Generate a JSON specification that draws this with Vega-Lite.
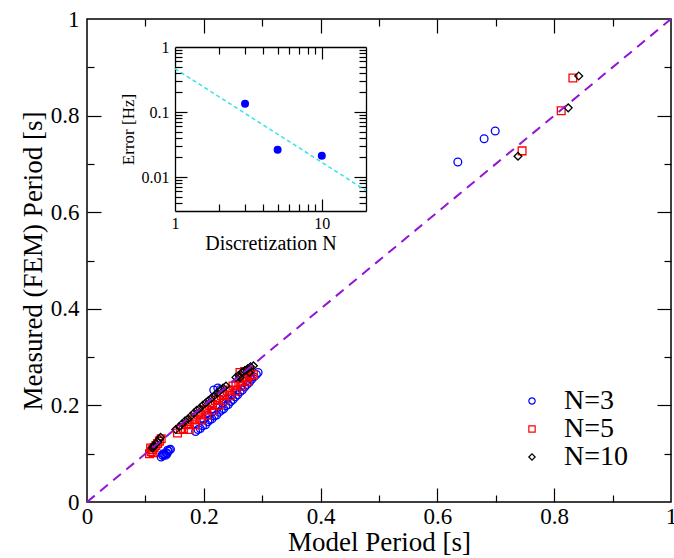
{
  "$schema": "https://vega.github.io/schema/vega-lite/v6.json",
  "width": 584,
  "height": 483,
  "autosize": "none",
  "padding": {"left": 87, "top": 19, "right": 3, "bottom": 56},
  "config": {
    "view": {"stroke": "black", "strokeWidth": 1.5},
    "font": "Liberation Serif, Times New Roman, serif",
    "axis": {
      "labelFont": "Liberation Serif, Times New Roman, serif", "titleFont": "Liberation Serif, Times New Roman, serif",
      "labelColor": "black", "titleColor": "black", "titleFontWeight": "normal",
      "grid": false, "tickColor": "black", "tickWidth": 1.2,
      "domainColor": "black", "domainWidth": 1.3,
      "labelFlush": false, "labelOverlap": false
    },
    "legend": {"labelFont": "Liberation Serif, Times New Roman, serif", "labelColor": "black"}
  },
  "datasets": {
    "pts": [
      {"series": "N=3", "x": 0.186, "y": 0.146}, {"series": "N=3", "x": 0.19, "y": 0.15}, {"series": "N=3", "x": 0.194, "y": 0.152},
      {"series": "N=3", "x": 0.198, "y": 0.158}, {"series": "N=3", "x": 0.203, "y": 0.16}, {"series": "N=3", "x": 0.207, "y": 0.166},
      {"series": "N=3", "x": 0.21, "y": 0.17}, {"series": "N=3", "x": 0.214, "y": 0.172}, {"series": "N=3", "x": 0.218, "y": 0.178},
      {"series": "N=3", "x": 0.222, "y": 0.18}, {"series": "N=3", "x": 0.226, "y": 0.186}, {"series": "N=3", "x": 0.23, "y": 0.19},
      {"series": "N=3", "x": 0.234, "y": 0.193}, {"series": "N=3", "x": 0.238, "y": 0.199}, {"series": "N=3", "x": 0.242, "y": 0.202},
      {"series": "N=3", "x": 0.246, "y": 0.208}, {"series": "N=3", "x": 0.25, "y": 0.212}, {"series": "N=3", "x": 0.254, "y": 0.218},
      {"series": "N=3", "x": 0.258, "y": 0.222}, {"series": "N=3", "x": 0.262, "y": 0.228}, {"series": "N=3", "x": 0.266, "y": 0.232},
      {"series": "N=3", "x": 0.27, "y": 0.238}, {"series": "N=3", "x": 0.274, "y": 0.243}, {"series": "N=3", "x": 0.278, "y": 0.248},
      {"series": "N=3", "x": 0.282, "y": 0.254}, {"series": "N=3", "x": 0.286, "y": 0.259}, {"series": "N=3", "x": 0.29, "y": 0.264},
      {"series": "N=3", "x": 0.2, "y": 0.172}, {"series": "N=3", "x": 0.208, "y": 0.18}, {"series": "N=3", "x": 0.216, "y": 0.188},
      {"series": "N=3", "x": 0.224, "y": 0.196}, {"series": "N=3", "x": 0.232, "y": 0.205}, {"series": "N=3", "x": 0.24, "y": 0.214},
      {"series": "N=3", "x": 0.248, "y": 0.222}, {"series": "N=3", "x": 0.256, "y": 0.232}, {"series": "N=3", "x": 0.264, "y": 0.24},
      {"series": "N=3", "x": 0.272, "y": 0.25}, {"series": "N=3", "x": 0.28, "y": 0.258},
      {"series": "N=3", "x": 0.217, "y": 0.232}, {"series": "N=3", "x": 0.224, "y": 0.236}, {"series": "N=3", "x": 0.228, "y": 0.233},
      {"series": "N=3", "x": 0.262, "y": 0.262}, {"series": "N=3", "x": 0.275, "y": 0.268}, {"series": "N=3", "x": 0.293, "y": 0.268},
      {"series": "N=3", "x": 0.127, "y": 0.093}, {"series": "N=3", "x": 0.13, "y": 0.096}, {"series": "N=3", "x": 0.133, "y": 0.099},
      {"series": "N=3", "x": 0.136, "y": 0.102}, {"series": "N=3", "x": 0.139, "y": 0.105}, {"series": "N=3", "x": 0.141, "y": 0.108},
      {"series": "N=3", "x": 0.143, "y": 0.109}, {"series": "N=3", "x": 0.129, "y": 0.098}, {"series": "N=3", "x": 0.135, "y": 0.097},
      {"series": "N=3", "x": 0.138, "y": 0.107}, {"series": "N=3", "x": 0.131, "y": 0.1}, {"series": "N=3", "x": 0.137, "y": 0.1},
      {"series": "N=3", "x": 0.635, "y": 0.704}, {"series": "N=3", "x": 0.68, "y": 0.752}, {"series": "N=3", "x": 0.699, "y": 0.768},

      {"series": "N=5", "x": 0.155, "y": 0.143}, {"series": "N=5", "x": 0.16, "y": 0.15}, {"series": "N=5", "x": 0.165, "y": 0.152},
      {"series": "N=5", "x": 0.17, "y": 0.16}, {"series": "N=5", "x": 0.175, "y": 0.162}, {"series": "N=5", "x": 0.18, "y": 0.17},
      {"series": "N=5", "x": 0.185, "y": 0.172}, {"series": "N=5", "x": 0.19, "y": 0.18}, {"series": "N=5", "x": 0.195, "y": 0.182},
      {"series": "N=5", "x": 0.2, "y": 0.19}, {"series": "N=5", "x": 0.205, "y": 0.192}, {"series": "N=5", "x": 0.21, "y": 0.2},
      {"series": "N=5", "x": 0.215, "y": 0.202}, {"series": "N=5", "x": 0.22, "y": 0.21}, {"series": "N=5", "x": 0.225, "y": 0.212},
      {"series": "N=5", "x": 0.23, "y": 0.22}, {"series": "N=5", "x": 0.235, "y": 0.222}, {"series": "N=5", "x": 0.24, "y": 0.23},
      {"series": "N=5", "x": 0.245, "y": 0.232}, {"series": "N=5", "x": 0.25, "y": 0.24}, {"series": "N=5", "x": 0.255, "y": 0.242},
      {"series": "N=5", "x": 0.26, "y": 0.248}, {"series": "N=5", "x": 0.265, "y": 0.25}, {"series": "N=5", "x": 0.27, "y": 0.256},
      {"series": "N=5", "x": 0.275, "y": 0.258}, {"series": "N=5", "x": 0.28, "y": 0.262}, {"series": "N=5", "x": 0.285, "y": 0.264},
      {"series": "N=5", "x": 0.175, "y": 0.15}, {"series": "N=5", "x": 0.185, "y": 0.16}, {"series": "N=5", "x": 0.195, "y": 0.17},
      {"series": "N=5", "x": 0.205, "y": 0.18}, {"series": "N=5", "x": 0.215, "y": 0.19}, {"series": "N=5", "x": 0.225, "y": 0.2},
      {"series": "N=5", "x": 0.235, "y": 0.21}, {"series": "N=5", "x": 0.245, "y": 0.22}, {"series": "N=5", "x": 0.255, "y": 0.23},
      {"series": "N=5", "x": 0.265, "y": 0.24}, {"series": "N=5", "x": 0.275, "y": 0.25},
      {"series": "N=5", "x": 0.262, "y": 0.268}, {"series": "N=5", "x": 0.27, "y": 0.27}, {"series": "N=5", "x": 0.278, "y": 0.272},
      {"series": "N=5", "x": 0.107, "y": 0.1}, {"series": "N=5", "x": 0.11, "y": 0.104}, {"series": "N=5", "x": 0.112, "y": 0.108},
      {"series": "N=5", "x": 0.115, "y": 0.113}, {"series": "N=5", "x": 0.118, "y": 0.117}, {"series": "N=5", "x": 0.121, "y": 0.121},
      {"series": "N=5", "x": 0.124, "y": 0.126}, {"series": "N=5", "x": 0.127, "y": 0.131}, {"series": "N=5", "x": 0.109, "y": 0.112},
      {"series": "N=5", "x": 0.113, "y": 0.102},
      {"series": "N=5", "x": 0.745, "y": 0.727}, {"series": "N=5", "x": 0.812, "y": 0.81}, {"series": "N=5", "x": 0.832, "y": 0.878},

      {"series": "N=10", "x": 0.152, "y": 0.15}, {"series": "N=10", "x": 0.158, "y": 0.156}, {"series": "N=10", "x": 0.163, "y": 0.162},
      {"series": "N=10", "x": 0.168, "y": 0.168}, {"series": "N=10", "x": 0.173, "y": 0.172}, {"series": "N=10", "x": 0.178, "y": 0.178},
      {"series": "N=10", "x": 0.183, "y": 0.184}, {"series": "N=10", "x": 0.188, "y": 0.19}, {"series": "N=10", "x": 0.193, "y": 0.194},
      {"series": "N=10", "x": 0.198, "y": 0.2}, {"series": "N=10", "x": 0.203, "y": 0.205}, {"series": "N=10", "x": 0.208, "y": 0.21},
      {"series": "N=10", "x": 0.213, "y": 0.215}, {"series": "N=10", "x": 0.218, "y": 0.22}, {"series": "N=10", "x": 0.223, "y": 0.226},
      {"series": "N=10", "x": 0.228, "y": 0.231}, {"series": "N=10", "x": 0.233, "y": 0.236}, {"series": "N=10", "x": 0.238, "y": 0.24},
      {"series": "N=10", "x": 0.255, "y": 0.258}, {"series": "N=10", "x": 0.26, "y": 0.262}, {"series": "N=10", "x": 0.265, "y": 0.268},
      {"series": "N=10", "x": 0.27, "y": 0.272}, {"series": "N=10", "x": 0.275, "y": 0.276}, {"series": "N=10", "x": 0.28, "y": 0.28},
      {"series": "N=10", "x": 0.285, "y": 0.282}, {"series": "N=10", "x": 0.262, "y": 0.258}, {"series": "N=10", "x": 0.278, "y": 0.268},
      {"series": "N=10", "x": 0.112, "y": 0.112}, {"series": "N=10", "x": 0.115, "y": 0.117}, {"series": "N=10", "x": 0.118, "y": 0.121},
      {"series": "N=10", "x": 0.121, "y": 0.125}, {"series": "N=10", "x": 0.124, "y": 0.13}, {"series": "N=10", "x": 0.126, "y": 0.134},
      {"series": "N=10", "x": 0.114, "y": 0.114},
      {"series": "N=10", "x": 0.738, "y": 0.716}, {"series": "N=10", "x": 0.824, "y": 0.816}, {"series": "N=10", "x": 0.842, "y": 0.882}
    ],
    "diag": [{"x": 0, "y": 0}, {"x": 1, "y": 1}],
    "inset": [{"N": 3, "err": 0.134}, {"N": 5, "err": 0.0263}, {"N": 10, "err": 0.0213}],
    "fit": [{"N": 1, "err": 0.464}, {"N": 20, "err": 0.0062}]
  },
  "resolve": {"scale": {"x": "independent", "y": "independent"}},
  "layer": [
    {
      "resolve": {"axis": {"x": "independent", "y": "independent"}},
      "layer": [
        {
          "data": {"name": "pts"},
          "mark": {"type": "point", "filled": false, "strokeWidth": 1.3, "size": 60, "opacity": 1},
          "encoding": {
            "x": {"field": "x", "type": "quantitative", "scale": {"domain": [0, 1], "nice": false},
                  "axis": {"orient": "bottom", "values": [0.2, 0.4, 0.6, 0.8], "labels": false, "domain": false, "tickSize": -14, "title": null}},
            "y": {"field": "y", "type": "quantitative", "scale": {"domain": [0, 1], "nice": false},
                  "axis": {"orient": "left", "values": [0.2, 0.4, 0.6, 0.8], "labels": false, "domain": false, "tickSize": -14, "title": null}},
            "color": {"field": "series", "type": "nominal",
                      "scale": {"domain": ["N=3", "N=5", "N=10"], "range": ["#0000ff", "#ff0000", "#000000"]},
                      "legend": {"title": null, "orient": "none", "legendX": 431, "legendY": 368, "labelFontSize": 28, "labelOffset": 18, "symbolSize": 40, "symbolStrokeWidth": 1.2, "rowPadding": 0, "padding": 0}},
            "shape": {"field": "series", "type": "nominal",
                      "scale": {"domain": ["N=3", "N=5", "N=10"], "range": ["circle", "square", "diamond"]},
                      "legend": {"title": null, "orient": "none", "legendX": 431, "legendY": 368, "labelFontSize": 28, "labelOffset": 18, "symbolSize": 40, "symbolStrokeWidth": 1.2, "rowPadding": 0, "padding": 0}}
          }
        },
        {
          "data": {"name": "diag"},
          "mark": {"type": "line", "color": "#9414d6", "strokeWidth": 2, "strokeDash": [10, 7]},
          "encoding": {
            "x": {"field": "x", "type": "quantitative", "scale": {"domain": [0, 1], "nice": false},
                  "axis": {"orient": "bottom", "values": [0, 0.2, 0.4, 0.6, 0.8, 1], "format": "~g", "ticks": false, "domain": false, "labelFontSize": 23, "labelPadding": 3, "title": "Model Period [s]", "titleFontSize": 27, "titlePadding": 1}},
            "y": {"field": "y", "type": "quantitative", "scale": {"domain": [0, 1], "nice": false},
                  "axis": {"orient": "left", "values": [0, 0.2, 0.4, 0.6, 0.8, 1], "format": "~g", "ticks": false, "domain": false, "labelFontSize": 23, "labelPadding": 8, "title": "Measured (FEM) Period [s]", "titleFontSize": 27, "titlePadding": 3}}
          }
        },
        {
          "data": {"name": "diag"},
          "mark": {"type": "point", "opacity": 0},
          "encoding": {
            "x": {"field": "x", "type": "quantitative", "scale": {"domain": [0, 1], "nice": false},
                  "axis": {"orient": "top", "values": [0.2, 0.4, 0.6, 0.8], "labels": false, "domain": false, "tickSize": -14, "title": null}},
            "y": {"field": "y", "type": "quantitative", "scale": {"domain": [0, 1], "nice": false},
                  "axis": {"orient": "right", "values": [0.2, 0.4, 0.6, 0.8], "labels": false, "domain": false, "tickSize": -14, "title": null}}
          }
        },
        {
          "data": {"name": "diag"},
          "mark": {"type": "point", "opacity": 0},
          "encoding": {
            "x": {"field": "x", "type": "quantitative", "scale": {"domain": [0, 1], "nice": false},
                  "axis": {"orient": "bottom", "values": [0.1, 0.3, 0.5, 0.7, 0.9], "labels": false, "domain": false, "tickSize": -7, "title": null}},
            "y": {"field": "y", "type": "quantitative", "scale": {"domain": [0, 1], "nice": false},
                  "axis": {"orient": "left", "values": [0.1, 0.3, 0.5, 0.7, 0.9], "labels": false, "domain": false, "tickSize": -7, "title": null}}
          }
        },
        {
          "data": {"name": "diag"},
          "mark": {"type": "point", "opacity": 0},
          "encoding": {
            "x": {"field": "x", "type": "quantitative", "scale": {"domain": [0, 1], "nice": false},
                  "axis": {"orient": "top", "values": [0.1, 0.3, 0.5, 0.7, 0.9], "labels": false, "domain": false, "tickSize": -7, "title": null}},
            "y": {"field": "y", "type": "quantitative", "scale": {"domain": [0, 1], "nice": false},
                  "axis": {"orient": "right", "values": [0.1, 0.3, 0.5, 0.7, 0.9], "labels": false, "domain": false, "tickSize": -7, "title": null}}
          }
        }
      ]
    },
    {
      "resolve": {"axis": {"x": "independent", "y": "independent"}},
      "layer": [
        {
          "data": {"name": "fit"},
          "mark": {"type": "line", "color": "#2ee6e6", "strokeWidth": 1.5, "strokeDash": [4, 3]},
          "encoding": {
            "x": {"field": "N", "type": "quantitative", "scale": {"type": "log", "domain": [1, 20], "range": [88, 279], "nice": false},
                  "axis": {"orient": "bottom", "offset": -291, "values": [1, 10], "format": "~g", "ticks": false, "domain": true, "labelFontSize": 16, "labelPadding": 4, "title": "Discretization N", "titleFontSize": 20, "titlePadding": 2}},
            "y": {"field": "err", "type": "quantitative", "scale": {"type": "log", "domain": [0.003, 1], "range": [192, 28], "nice": false},
                  "axis": {"orient": "left", "offset": -88, "values": [0.01, 0.1, 1], "format": "~g", "ticks": false, "domain": true, "labelFontSize": 16, "labelPadding": 6, "title": "Error [Hz]", "titleFontSize": 17, "titlePadding": 4}}
          }
        },
        {
          "data": {"name": "inset"},
          "mark": {"type": "point", "filled": true, "color": "#0000ff", "size": 64, "opacity": 1},
          "encoding": {
            "x": {"field": "N", "type": "quantitative", "scale": {"type": "log", "domain": [1, 20], "range": [88, 279], "nice": false},
                  "axis": {"orient": "bottom", "offset": -291, "values": [10], "labels": false, "domain": false, "tickSize": -12, "title": null}},
            "y": {"field": "err", "type": "quantitative", "scale": {"type": "log", "domain": [0.003, 1], "range": [192, 28], "nice": false},
                  "axis": {"orient": "left", "offset": -88, "values": [0.01, 0.1], "labels": false, "domain": false, "tickSize": -12, "title": null}}
          }
        },
        {
          "data": {"name": "fit"},
          "mark": {"type": "point", "opacity": 0},
          "encoding": {
            "x": {"field": "N", "type": "quantitative", "scale": {"type": "log", "domain": [1, 20], "range": [88, 279], "nice": false},
                  "axis": {"orient": "top", "offset": -28, "values": [10], "labels": false, "domain": true, "tickSize": -12, "title": null}},
            "y": {"field": "err", "type": "quantitative", "scale": {"type": "log", "domain": [0.003, 1], "range": [192, 28], "nice": false},
                  "axis": {"orient": "right", "offset": -305, "values": [0.01, 0.1], "labels": false, "domain": true, "tickSize": -12, "title": null}}
          }
        },
        {
          "data": {"name": "fit"},
          "mark": {"type": "point", "opacity": 0},
          "encoding": {
            "x": {"field": "N", "type": "quantitative", "scale": {"type": "log", "domain": [1, 20], "range": [88, 279], "nice": false},
                  "axis": {"orient": "bottom", "offset": -291, "values": [2, 3, 4, 5, 6, 7, 8, 9], "labels": false, "domain": false, "tickSize": -7, "title": null}},
            "y": {"field": "err", "type": "quantitative", "scale": {"type": "log", "domain": [0.003, 1], "range": [192, 28], "nice": false},
                  "axis": {"orient": "left", "offset": -88, "values": [0.004, 0.005, 0.006, 0.007, 0.008, 0.009, 0.02, 0.03, 0.04, 0.05, 0.06, 0.07, 0.08, 0.09, 0.2, 0.3, 0.4, 0.5, 0.6, 0.7, 0.8, 0.9], "labels": false, "domain": false, "tickSize": -7, "title": null}}
          }
        },
        {
          "data": {"name": "fit"},
          "mark": {"type": "point", "opacity": 0},
          "encoding": {
            "x": {"field": "N", "type": "quantitative", "scale": {"type": "log", "domain": [1, 20], "range": [88, 279], "nice": false},
                  "axis": {"orient": "top", "offset": -28, "values": [2, 3, 4, 5, 6, 7, 8, 9], "labels": false, "domain": false, "tickSize": -7, "title": null}},
            "y": {"field": "err", "type": "quantitative", "scale": {"type": "log", "domain": [0.003, 1], "range": [192, 28], "nice": false},
                  "axis": {"orient": "right", "offset": -305, "values": [0.004, 0.005, 0.006, 0.007, 0.008, 0.009, 0.02, 0.03, 0.04, 0.05, 0.06, 0.07, 0.08, 0.09, 0.2, 0.3, 0.4, 0.5, 0.6, 0.7, 0.8, 0.9], "labels": false, "domain": false, "tickSize": -7, "title": null}}
          }
        }
      ]
    }
  ]
}
